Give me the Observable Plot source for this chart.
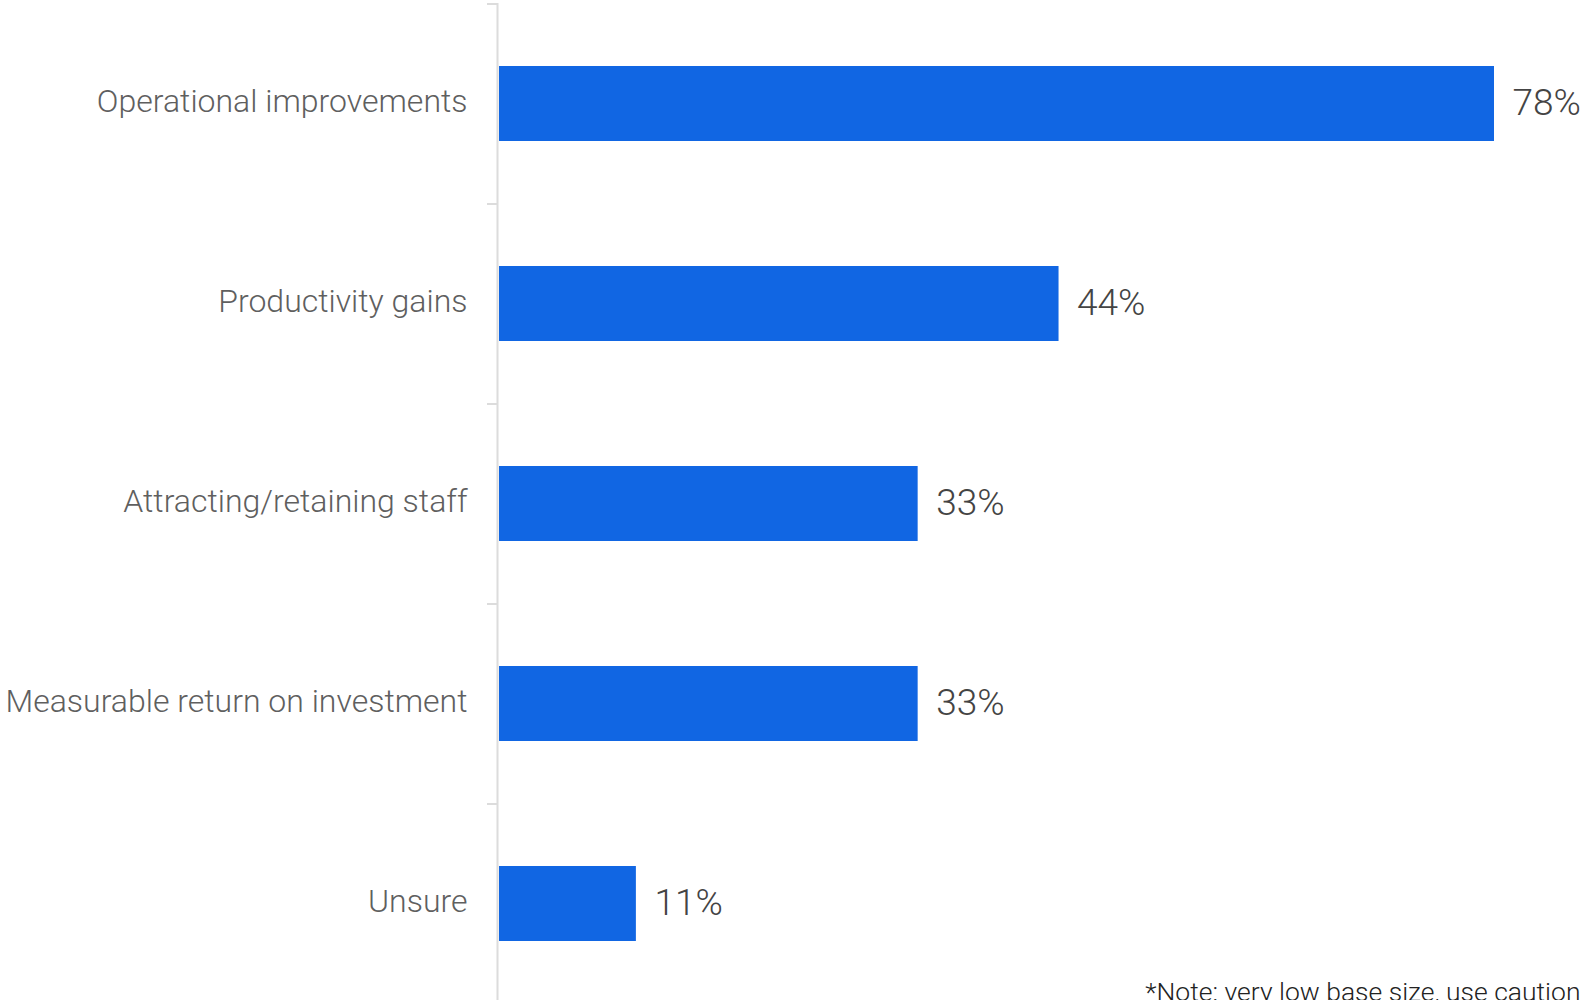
<!DOCTYPE html>
<html>
<head>
<meta charset="utf-8">
<script src="https://cdn.jsdelivr.net/npm/d3@7"></script>
<script src="https://cdn.jsdelivr.net/npm/@observablehq/plot@0.6"></script>
<style>
  html, body { margin: 0; padding: 0; background: #fff; overflow: hidden; }
  #chart svg { display: block; font-family: Roboto, "Noto Sans", sans-serif; font-weight: 300; }
</style>
</head>
<body>
<div id="chart"></div>
<script>
const categories = [
  "Operational improvements",
  "Productivity gains",
  "Attracting/retaining staff",
  "Measurable return on investment",
  "Unsure"
];
const values = [78, 44, 33, 33, 11];
const valueLabels = ["78%", "44%", "33%", "33%", "11%"];
const note = "*Note: very low base size, use caution";

const data = categories.map((c, i) => ({category: c, value: values[i], label: valueLabels[i]}));

const chart = Plot.plot({
  width: 1583,
  height: 1003,
  marginTop: 3,
  marginBottom: 0,
  marginLeft: 495,
  marginRight: 89,
  style: {background: "#fff", overflow: "visible"},
  x: {domain: [0, 78], axis: null},
  y: {domain: categories, paddingInner: 0.625, paddingOuter: 0.3125, align: 0.5, label: null},
  marks: [
    Plot.barX(data, {y: "category", x: "value", fill: "#1166e3", insetLeft: 4}),
    Plot.ruleX([0], {stroke: "#dcdcdc", strokeWidth: 2, dx: 2}),
    Plot.ruleY(categories, {y: d => d, x1: 0, x2: 0, insetLeft: -8, insetRight: -2, dy: -100, stroke: "#dcdcdc", strokeWidth: 2}),
    Plot.axisY({tickSize: 0, tickPadding: 28, fontSize: 32, dy: -2, fill: "#5f5f5f", label: null}),
    Plot.text(data, {y: "category", x: "value", text: "label", textAnchor: "start", dx: 18, dy: -1, fontSize: 37, fill: "#444444"}),
    Plot.text([note], {frameAnchor: "bottom-right", text: d => d, textAnchor: "end", lineAnchor: "bottom", dx: 86, dy: -3, fontSize: 26.5, fill: "#222222"})
  ]
});
document.getElementById("chart").appendChild(chart);
</script>
</body>
</html>
